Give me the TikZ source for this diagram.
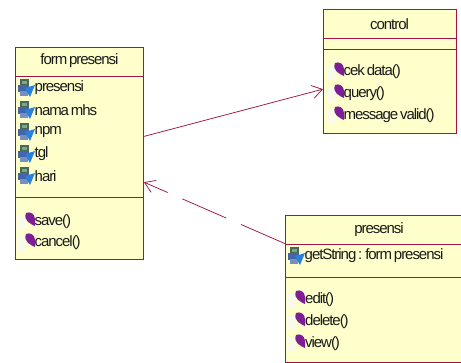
\documentclass[tikz,border=0pt]{standalone}
\usepackage{fontspec}
\setmainfont[LetterSpace=-7,WordSpace=0.6]{Liberation Sans}
\usetikzlibrary{arrows.meta,calc}
\definecolor{umlline}{RGB}{160,20,70}
\definecolor{umlfill}{RGB}{255,255,204}
\definecolor{icondark}{RGB}{70,105,90}
\definecolor{iconscreen}{RGB}{125,170,125}
\definecolor{iconsteel}{RGB}{70,100,170}
\definecolor{iconblue}{RGB}{40,130,220}
\definecolor{iconpale}{RGB}{115,145,195}
\definecolor{iconpurple}{RGB}{125,30,150}
\definecolor{iconhalo}{RGB}{250,250,235}
\tikzset{
  x=1pt,y=-1pt,
  umlbox/.style={draw=umlline,fill=umlfill,line width=0.9pt,minimum width=#1,inner sep=0pt,anchor=north west},
  sect/.style={draw=umlline,line width=0.8pt},
  lbl/.style={inner sep=0pt,anchor=west,font=\fontsize{15}{16}\selectfont,text=black!90},
  ttl/.style={inner sep=0pt,anchor=center,font=\fontsize{15}{16}\selectfont,text=black!90},
  conn/.style={draw=umlline,line width=0.75pt},
  tipbarb/.style={-{Straight Barb[length=10pt,width=13pt]}},
  pics/attr/.style={code={
    \fill[icondark] (-6,-9) rectangle (3,-2);
    \fill[iconscreen] (-4,-7) rectangle (1,-4);
    \fill[iconsteel] (-8,-3) rectangle (3,4);
    \fill[iconpale] (-6,3) rectangle (2,8);
    \fill[iconblue] (-1,0) -- (9,-3) -- (4,9) -- cycle;
  }},
  pics/oper/.style={code={
    \fill[iconhalo] (-11,-7) rectangle (-3,8);
    \fill[iconpurple] (-3,-9) .. controls (1,-11) and (6,-8) .. (6,-3) .. controls (6,0) and (6,3) .. (6,4) .. controls (2,2) and (-6,-1) .. (-3,-9) -- cycle;
  }},
}
\begin{document}
\begin{tikzpicture}
\useasboundingbox (0,0) rectangle (461,362);
% boxes
\node[umlbox=128pt,minimum height=212pt] (form) at (15,47) {};
\node[umlbox=133pt,minimum height=124pt] (control) at (323,9) {};
\node[umlbox=177pt,minimum height=147pt] (presensi) at (285,215) {};
% compartment rules
\draw[sect] (15,76.5) -- (143,76.5);
\draw[sect] (15,197.5) -- (143,197.5);
\draw[sect] (323,38.5) -- (456,38.5);
\draw[sect] (323,49.5) -- (456,49.5);
\draw[sect] (285,244.5) -- (461,244.5);
\draw[sect] (285,277) -- (461,277);
% titles
\node[ttl] (t1) at (79.5,61) {form presensi};
\node[ttl] (t2) at (389.5,24) {control};
\node[ttl] (t3) at (379,229.5) {presensi};
% attributes
\foreach \y/\t/\n in {88/presensi/a1,110/nama mhs/a2,132/npm/a3,154/tgl/a4,176/hari/a5}{
  \pic at (26,\y) {attr};
  \node[lbl] (\n) at (34.5,\y) {\t};
}
\pic at (296,256) {attr};
\node[lbl] (a6) at (304.5,256) {getString : form presensi};
% operations
\foreach \y/\t/\n in {222/save()/o1,243/cancel()/o2}{
  \pic at (29,\y) {oper};
  \node[lbl] (\n) at (34.5,\y) {\t};
}
\foreach \y/\t/\n in {72/cek data()/o3,94/query()/o4,116/message valid()/o5}{
  \pic at (338,\y) {oper};
  \node[lbl] (\n) at (343.5,\y) {\t};
}
\foreach \y/\t/\n in {300/edit()/o6,322/delete()/o7,344/view()/o8}{
  \pic at (299,\y) {oper};
  \node[lbl] (\n) at (305,\y) {\t};
}
% connectors
\draw[conn,tipbarb] (form) -- (control);
\draw[conn,tipbarb,dash pattern=on 48pt off 16pt] (presensi.153.8) -- (form.-24.7);
\end{tikzpicture}
\end{document}
